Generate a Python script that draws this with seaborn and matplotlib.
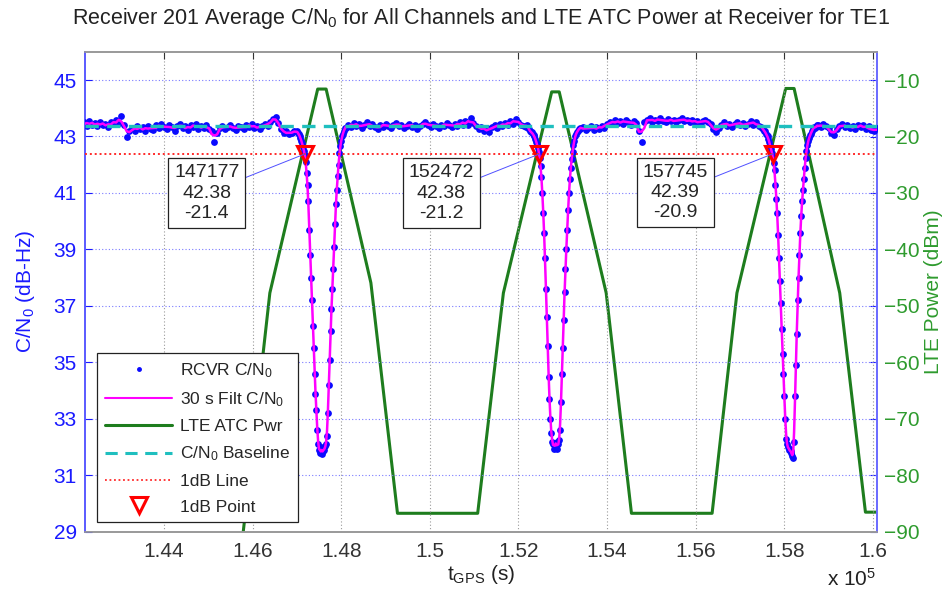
import numpy as np
import pandas as pd
import matplotlib
matplotlib.use("Agg")
import matplotlib.pyplot as plt
import seaborn as sns
from matplotlib.lines import Line2D
from matplotlib.ticker import FuncFormatter

# receiver C/N0 samples in segments (start time, step in s, values in dB-Hz)
seg1_start, seg1_step = 142200, 60
seg1_cn0 = [43.50, 43.38, 43.55, 43.42, 43.48, 43.36, 43.52, 43.40, 43.46, 43.33,
            43.50, 43.44, 43.58, 43.47, 43.72, 43.40, 42.98, 43.18, 43.30, 43.20,
            43.36, 43.25, 43.32, 43.18, 43.38, 43.28, 43.22, 43.40, 43.30, 43.44,
            43.34, 43.26, 43.42, 43.33, 43.20, 43.38, 43.46, 43.30, 43.36, 43.24,
            43.40, 43.32, 43.45, 43.28, 43.36, 43.30, 43.42, 43.26, 43.18, 42.80,
            43.12, 43.30, 43.38, 43.28, 43.35, 43.42, 43.30, 43.24, 43.38, 43.33,
            43.27, 43.40, 43.34, 43.44, 43.30, 43.36, 43.28, 43.38, 43.45, 43.36,
            43.50, 43.62, 43.70, 43.48, 43.25, 43.12, 43.18, 43.08, 43.14, 43.18]

seg2_start, seg2_step = 147000, 20
seg2_cn0 = [43.20, 43.12, 43.10, 43.02, 42.95, 42.85, 42.76, 42.62, 42.50, 42.36,
            42.10, 41.70, 41.30, 40.70, 39.70, 38.80, 38.00, 37.20, 36.30, 35.50,
            34.60, 33.90, 33.30, 32.60, 32.10, 31.90, 31.80, 32.00, 31.75, 31.95,
            31.85, 31.90, 32.05, 32.10, 32.40, 33.20, 34.20, 35.10, 36.10, 36.90,
            37.60, 38.30, 39.10, 39.90, 40.60, 41.10, 41.60, 42.00, 42.40, 42.65,
            42.85, 43.00, 43.10, 43.20, 43.30]

seg3_start, seg3_step = 148100, 60
seg3_cn0 = [43.30, 43.42, 43.34, 43.48, 43.38, 43.44, 43.30, 43.40, 43.50, 43.36,
            43.44, 43.32, 43.26, 43.40, 43.35, 43.46, 43.38, 43.30, 43.42, 43.48,
            43.36, 43.42, 43.30, 43.38, 43.46, 43.34, 43.40, 43.28, 43.36, 43.44,
            43.52, 43.40, 43.34, 43.46, 43.38, 43.30, 43.42, 43.36, 43.48, 43.40,
            43.33, 43.45, 43.38, 43.50, 43.42, 43.56, 43.40, 43.66, 43.48, 43.36,
            43.28, 43.34, 43.20, 43.30, 43.16, 43.32, 43.40, 43.30, 43.44, 43.36,
            43.48, 43.40, 43.54, 43.46, 43.62, 43.50, 43.42, 43.38]

seg4_start, seg4_step = 152180, 20
seg4_cn0 = [43.35, 43.40, 43.30, 43.25, 43.20, 43.15, 43.15, 43.10, 43.05, 43.00,
            42.92, 42.82, 42.72, 42.60, 42.46, 42.25, 41.95, 41.55, 41.00, 40.30,
            39.60, 38.70, 37.60, 36.60, 35.60, 34.50, 33.70, 33.00, 32.50, 32.20,
            32.10, 31.95, 32.15, 32.05, 32.20, 31.95, 32.10, 32.25, 32.60, 33.60,
            34.60, 35.50, 36.50, 37.50, 38.30, 39.00, 39.70, 40.40, 41.00, 41.50,
            41.90, 42.20, 42.45, 42.70, 42.85, 43.00, 43.10, 43.15, 43.20, 43.25,
            43.30]

seg5_start, seg5_step = 153400, 60
seg5_cn0 = [43.28, 43.34, 43.22, 43.30, 43.36, 43.24, 43.32, 43.28, 43.38, 43.30,
            43.46, 43.52, 43.44, 43.58, 43.48, 43.54, 43.46, 43.60, 43.50, 43.42,
            43.56, 43.48, 43.20, 42.82, 43.50, 43.58, 43.64, 43.52, 43.60, 43.54,
            43.66, 43.56, 43.50, 43.62, 43.55, 43.60, 43.50, 43.58, 43.64, 43.54,
            43.60, 43.52, 43.58, 43.50, 43.56, 43.46, 43.54, 43.60, 43.50, 43.44,
            43.28, 43.16, 43.30, 43.42, 43.50, 43.38, 43.46, 43.34, 43.44, 43.52,
            43.40, 43.48, 43.36, 43.44, 43.56, 43.42, 43.50, 43.38]

seg6_start, seg6_step = 157480, 20
seg6_cn0 = [43.35, 43.30, 43.25, 43.20, 43.20, 43.10, 43.05, 43.00, 42.92, 42.80,
            42.68, 42.55, 42.42, 42.30, 42.05, 41.80, 41.30, 40.80, 40.30, 39.50,
            38.70, 37.90, 37.10, 36.20, 35.30, 34.60, 33.80, 33.00, 32.30, 32.10,
            32.00, 31.90, 31.95, 31.80, 31.85, 31.70, 31.60, 32.20, 33.80, 34.90,
            36.00, 37.20, 38.00, 38.80, 39.60, 40.20, 40.70, 41.10, 41.50, 41.90,
            42.25, 42.50, 42.70, 42.85, 42.95, 43.05, 43.10, 43.20, 43.25, 43.30,
            43.35, 43.30, 43.35, 43.40]

seg7_start, seg7_step = 158760, 60
seg7_cn0 = [43.40, 43.32, 43.44, 43.36, 43.30, 43.12, 43.04, 43.28, 43.36, 43.44,
            43.32, 43.40, 43.30, 43.38, 43.26, 43.42, 43.34, 43.40, 43.28, 43.36,
            43.22, 43.18, 43.30]

# LTE ATC power at the receiver (break points of the ramp profile)
lte_t = [145700, 146390, 147470, 147660, 148670, 149270, 151080, 151660, 152750, 152920,
         153980, 154550, 156370, 156930, 158030, 158220, 159250, 159830, 160100]
lte_dbm = [-96.3, -47.7, -11.6, -11.6, -45.9, -86.7, -86.7, -47.7, -12.1, -12.1,
           -47.7, -86.7, -86.7, -47.7, -11.5, -11.5, -47.7, -86.5, -86.5]

baseline_cn0 = 43.38
one_db_cn0 = 42.38

# 1 dB points
pt_t = [147177, 152472, 157745]
pt_cn0 = [42.38, 42.38, 42.39]
pt_lte = [-21.4, -21.2, -20.9]

segments = [(seg1_start, seg1_step, seg1_cn0), (seg2_start, seg2_step, seg2_cn0),
            (seg3_start, seg3_step, seg3_cn0), (seg4_start, seg4_step, seg4_cn0),
            (seg5_start, seg5_step, seg5_cn0), (seg6_start, seg6_step, seg6_cn0),
            (seg7_start, seg7_step, seg7_cn0)]
frames = []
for start, step, vals in segments:
    frames.append(pd.DataFrame({"t": start + step * np.arange(len(vals)), "raw": vals}))
cn0 = pd.concat(frames, ignore_index=True)
cn0["filt"] = cn0["raw"].rolling(3, center=True, min_periods=1).mean()
lte = pd.DataFrame({"t": lte_t, "pwr": lte_dbm})

sns.set_style("white")
plt.rcParams["font.family"] = ["Liberation Sans", "DejaVu Sans"]
plt.rcParams["mathtext.default"] = "regular"

BLUE = "#1a1aff"
GREEN_LINE = "#1e7d1e"
GREEN_TXT = "#2e9b2e"
MAGENTA = "#ff00ff"
CYAN = "#1fbfbf"
RED = "#ff2a2a"

fig = plt.figure(figsize=(9.45, 5.95), dpi=100)
ax = fig.add_axes([0.090, 0.106, 0.838, 0.807])
ax2 = ax.twinx()

sns.lineplot(data=lte, x="t", y="pwr", ax=ax2, color=GREEN_LINE, lw=2.2, estimator=None, sort=False)
ax.set_zorder(ax2.get_zorder() + 1)
ax.patch.set_visible(False)

sns.scatterplot(data=cn0, x="t", y="raw", ax=ax, color="#0a0aff", s=24, linewidth=0, legend=False, zorder=3)
sns.lineplot(data=cn0, x="t", y="filt", ax=ax, color=MAGENTA, lw=1.8, estimator=None, zorder=4)
ax.axhline(baseline_cn0, color=CYAN, ls=(0, (4, 2.5)), lw=2.4, zorder=5)
ax.axhline(one_db_cn0, color=RED, ls=(0, (1, 1.5)), lw=1.4, zorder=5)
ax.plot(pt_t, pt_cn0, "v", ms=12, mfc="none", mec="red", mew=2.2, zorder=7)

for t, c, p in zip(pt_t, pt_cn0, pt_lte):
    ax.annotate(f"{t}\n{c:.2f}\n{p:.1f}", xy=(t, c), xytext=(-98, -39), textcoords="offset pixels",
                ha="center", va="center", multialignment="center", fontsize=14, linespacing=1.25,
                bbox=dict(boxstyle="square,pad=0.3", fc="white", ec="#222222", lw=0.9),
                arrowprops=dict(arrowstyle="-", color="#5050ff", lw=0.7, shrinkA=0, shrinkB=0),
                zorder=8)

ax.set_xlim(142220, 160090)
ax.set_ylim(29, 46)
ax2.set_ylim(-90, -5)
ax.set_xticks(np.arange(144000, 160001, 2000))
ax.xaxis.set_major_formatter(FuncFormatter(lambda v, p: f"{v / 1e5:g}"))
ax.set_yticks(np.arange(29, 46, 2))
ax2.set_yticks(np.arange(-90, -9, 10))

ax.grid(True, axis="x", color="#9a9a9a", ls=(0, (1, 2)), lw=0.8)
ax.grid(True, axis="y", color="#7a7aff", ls=(0, (1, 2)), lw=0.8)

ax.tick_params(axis="x", direction="in", length=5, top=True, labelsize=15, colors="#333333", pad=7)
ax.tick_params(axis="y", direction="in", length=5, labelsize=15, colors=BLUE, pad=6)
ax2.tick_params(axis="y", direction="in", length=5, labelsize=15, color=BLUE, labelcolor=GREEN_TXT, pad=5)

for a in (ax, ax2):
    a.spines["left"].set_color("#5a5aff")
    a.spines["right"].set_color("#6a6aff")
    a.spines["top"].set_color("#999999")
    a.spines["bottom"].set_color("#999999")
    for s in a.spines.values():
        s.set_linewidth(1.2)

ax.set_xlabel(r"t$_{GPS}$ (s)", fontsize=15, color="#222222", labelpad=2)
ax.set_ylabel(r"C/N$_0$ (dB-Hz)", fontsize=15, color=BLUE, labelpad=12)
ax2.set_ylabel("LTE Power (dBm)", fontsize=15, color=GREEN_TXT, labelpad=3)
ax.set_title(r"Receiver 201 Average C/N$_0$ for All Channels and LTE ATC Power at Receiver for TE1",
             fontsize=15.5, color="#222222", pad=20)
fig.text(852 / 945, 1 - 579 / 595, r"x 10$^5$", fontsize=15, color="#222222", ha="center", va="center")

handles = [
    Line2D([], [], ls="none", marker=".", ms=5, color="#0a0aff"),
    Line2D([], [], color=MAGENTA, lw=1.5),
    Line2D([], [], color=GREEN_LINE, lw=2.2),
    Line2D([], [], color=CYAN, lw=2.2, ls=(0, (4, 2.5))),
    Line2D([], [], color=RED, lw=1.3, ls=(0, (1, 1.5))),
    Line2D([], [], ls="none", marker="v", ms=11, mfc="none", mec="red", mew=2.2),
]
labels = [r"RCVR C/N$_0$", r"30 s Filt C/N$_0$", "LTE ATC Pwr", r"C/N$_0$ Baseline", "1dB Line", "1dB Point"]
leg = ax.legend(handles, labels, loc="lower left", bbox_to_anchor=(0.015, 0.02), borderaxespad=0,
                fontsize=12.5, handlelength=3.9, handletextpad=0.45, labelspacing=0.6,
                frameon=True, fancybox=False, framealpha=1, edgecolor="#222222", borderpad=0.45)
leg.get_frame().set_linewidth(0.9)
leg.set_zorder(10)

fig.savefig("out.png", dpi=100)
